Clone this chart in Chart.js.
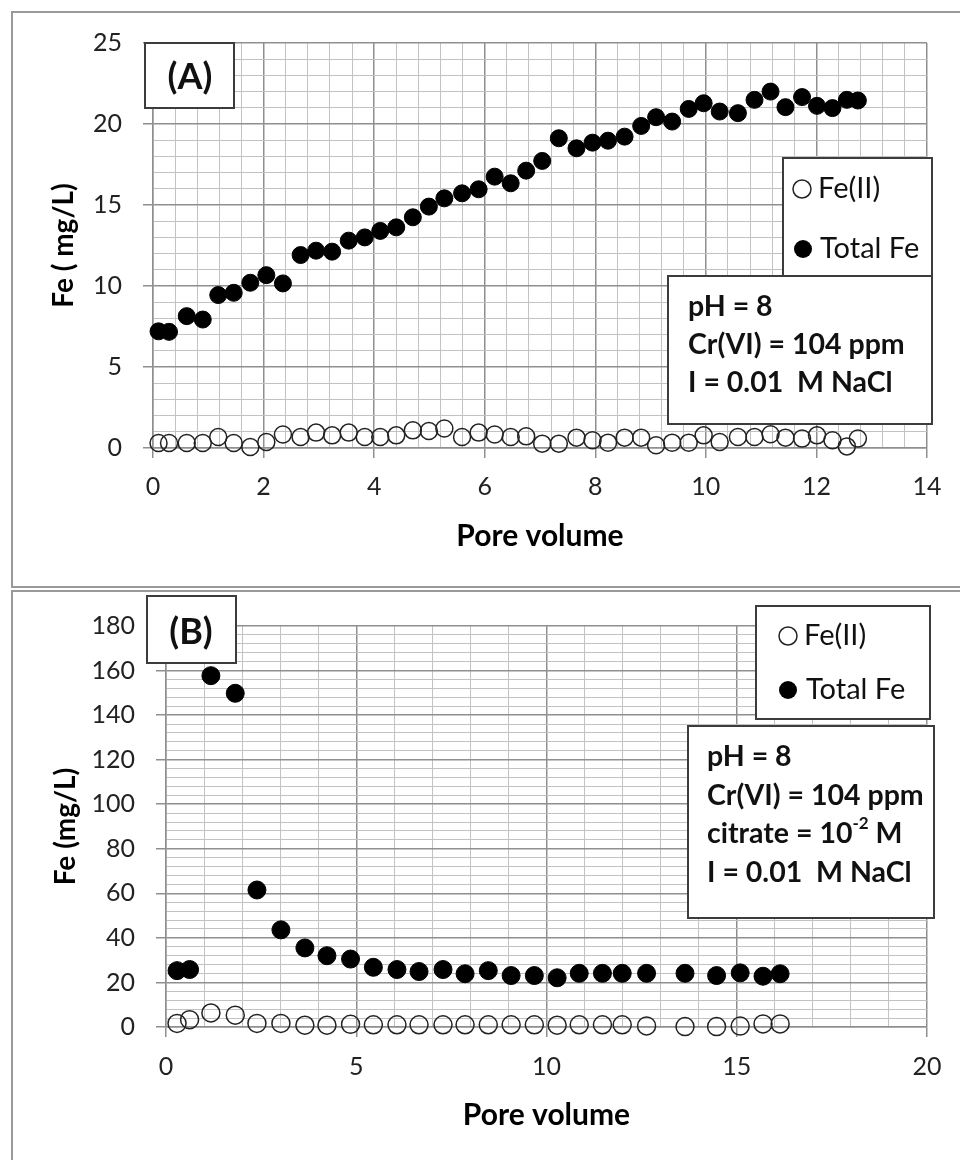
<!DOCTYPE html>
<html>
<head>
<meta charset="utf-8">
<script src="https://cdn.jsdelivr.net/npm/chart.js@4.4.1/dist/chart.umd.min.js"></script>
<style>
  html, body { margin: 0; padding: 0; background: #fff; }
  body { width: 960px; height: 1160px; position: relative; overflow: hidden; }
  .frame { position: absolute; left: 11px; width: 1000px; border: 2px solid #9a9a9a; box-sizing: border-box; }
  #frameA { top: 11px; height: 577px; }
  #frameB { top: 590px; height: 600px; }
  canvas { position: absolute; left: 0; }
  #chartA { top: 0; }
  #chartB { top: 590px; }
</style>
</head>
<body>
<div class="frame" id="frameA"></div>
<div class="frame" id="frameB"></div>
<canvas id="chartA" width="960" height="590"></canvas>
<canvas id="chartB" width="960" height="570"></canvas>
<script>
// Panel A: pH 8, no citrate
const poreVolA = [0.1, 0.29, 0.61, 0.9, 1.18, 1.46, 1.76, 2.05, 2.35, 2.67, 2.95, 3.24, 3.54, 3.83, 4.11,
  4.4, 4.7, 4.99, 5.27, 5.59, 5.89, 6.18, 6.47, 6.75, 7.04, 7.34, 7.66, 7.95, 8.23, 8.53, 8.83, 9.1,
  9.39, 9.69, 9.96, 10.25, 10.58, 10.88, 11.17, 11.44, 11.74, 12.01, 12.29, 12.55, 12.75];
const totalFeA = [7.2, 7.17, 8.14, 7.93, 9.44, 9.58, 10.2, 10.67, 10.16, 11.91, 12.18, 12.12, 12.8, 13.0, 13.4,
  13.62, 14.24, 14.9, 15.41, 15.72, 15.97, 16.75, 16.34, 17.12, 17.72, 19.12, 18.5, 18.85, 18.97, 19.22, 19.88, 20.42,
  20.15, 20.93, 21.28, 20.77, 20.67, 21.49, 22.0, 21.04, 21.66, 21.12, 20.98, 21.49, 21.45];
const fe2A = [0.31, 0.31, 0.31, 0.31, 0.68, 0.31, 0.06, 0.37, 0.83, 0.68, 0.95, 0.78, 0.95, 0.68, 0.68,
  0.78, 1.09, 1.05, 1.2, 0.68, 0.95, 0.83, 0.68, 0.72, 0.27, 0.27, 0.64, 0.48, 0.33, 0.64, 0.64, 0.17,
  0.33, 0.33, 0.78, 0.37, 0.68, 0.68, 0.85, 0.64, 0.58, 0.78, 0.48, 0.1, 0.58];
const xTicksA = [0, 2, 4, 6, 8, 10, 12, 14];
const yTicksA = [0, 5, 10, 15, 20, 25];

// Panel B: pH 8 with citrate 10^-2 M
const poreVolB = [0.29, 0.62, 1.18, 1.82, 2.39, 3.02, 3.65, 4.23, 4.85, 5.45, 6.07, 6.65, 7.28, 7.86,
  8.47, 9.07, 9.68, 10.28, 10.86, 11.47, 11.99, 12.63, 13.64, 14.47, 15.09, 15.69, 16.14];
const totalFeB = [25.3, 25.8, 157.7, 149.8, 61.5, 43.6, 35.5, 32.0, 30.5, 26.8, 25.8, 24.9, 25.8, 23.9,
  25.3, 23.1, 23.1, 22.1, 24.1, 24.1, 24.1, 24.1, 24.1, 23.1, 24.3, 22.8, 23.9];
const fe2B = [1.6, 3.3, 6.3, 5.3, 1.6, 1.6, 0.8, 0.8, 1.2, 1.0, 1.0, 1.0, 1.0, 1.0,
  1.0, 1.0, 1.0, 0.8, 1.0, 1.0, 1.0, 0.5, 0.2, 0.2, 0.4, 1.4, 1.4];
const xTicksB = [0, 5, 10, 15, 20];
const yTicksB = [0, 20, 40, 60, 80, 100, 120, 140, 160, 180];

const seriesNames = ['Fe(II)', 'Total Fe'];

Chart.defaults.font.family = 'Lato, "Open Sans", sans-serif';
Chart.defaults.color = '#222';

const majorGrid = '#8f8f8f';
const minorGrid = '#c2c2c2';

const isMajor = (v, majors) => majors.some(m => Math.abs(m - v) < 1e-6);

// draws the framed label / legend / condition boxes
const notesPlugin = {
  id: 'notes',
  afterDraw(chart, args, opts) {
    const ctx = chart.ctx;
    (opts.boxes || []).forEach(b => {
      ctx.save();
      ctx.fillStyle = '#fff';
      ctx.fillRect(b.x, b.y, b.w, b.h);
      ctx.lineWidth = 2;
      ctx.strokeStyle = '#3c3c3c';
      ctx.strokeRect(b.x, b.y, b.w, b.h);
      ctx.textBaseline = 'middle';
      (b.items || []).forEach(it => {
        if (it.marker) {
          ctx.beginPath();
          ctx.arc(it.mx, it.y, 9, 0, Math.PI * 2);
          if (it.marker === 'filled') {
            ctx.fillStyle = '#000';
            ctx.fill();
          } else {
            ctx.lineWidth = 1.5;
            ctx.strokeStyle = '#222';
            ctx.stroke();
          }
        }
        let x = it.x;
        const parts = it.parts || [{ t: it.text }];
        if (it.center) {
          ctx.font = it.font;
          x = it.x - ctx.measureText(it.text).width / 2;
        }
        parts.forEach(p => {
          ctx.font = p.sup ? it.supFont : it.font;
          ctx.fillStyle = '#111';
          ctx.fillText(p.t, x, p.sup ? it.y - 10 : it.y);
          x += ctx.measureText(p.t).width;
        });
      });
      ctx.restore();
    });
  }
};

function makeAxis(majors, step, min, max, opts) {
  return {
    type: 'linear',
    min: min,
    max: max,
    ticks: {
      stepSize: step,
      autoSkip: false,
      maxRotation: 0,
      minRotation: 0,
      padding: opts.tickPad,
      font: { size: 25 },
      color: '#222',
      callback: v => isMajor(v, majors) ? String(v) : ''
    },
    grid: {
      color: c => (c.tick && isMajor(c.tick.value, majors)) ? majorGrid : minorGrid,
      lineWidth: c => (c.tick && isMajor(c.tick.value, majors)) ? 1.5 : 1,
      tickColor: c => (c.tick && isMajor(c.tick.value, majors)) ? majorGrid : 'rgba(0,0,0,0)',
      tickLength: 10,
      drawTicks: true
    },
    border: { color: majorGrid, width: 1.5 },
    title: {
      display: true,
      text: opts.title,
      font: { size: opts.titleSize, weight: 'bold' },
      color: '#000',
      padding: opts.titlePad
    },
    afterFit: opts.fit
  };
}

function makeDatasets(xs, fe2, total, r) {
  return [
    {
      label: seriesNames[0],
      data: xs.map((x, i) => ({ x: x, y: fe2[i] })),
      pointRadius: r,
      pointBackgroundColor: 'rgba(0,0,0,0)',
      pointBorderColor: '#222',
      pointBorderWidth: 1.5,
      showLine: false,
      clip: false
    },
    {
      label: seriesNames[1],
      data: xs.map((x, i) => ({ x: x, y: total[i] })),
      pointRadius: r,
      pointBackgroundColor: '#000',
      pointBorderColor: '#000',
      pointBorderWidth: 1,
      showLine: false,
      clip: false
    }
  ];
}

const textFont = '29px Lato, "Open Sans", sans-serif';
const boldFont = 'bold 28.5px Lato, "Open Sans", sans-serif';

new Chart(document.getElementById('chartA'), {
  type: 'scatter',
  data: { datasets: makeDatasets(poreVolA, fe2A, totalFeA, 8.5) },
  options: {
    responsive: false,
    animation: false,
    layout: { padding: { top: 43, right: 33, left: 0, bottom: 0 } },
    scales: {
      x: makeAxis(xTicksA, 0.4, 0, 14, {
        title: 'Pore volume', titleSize: 30, tickPad: 14, titlePad: { top: 0, bottom: 36 },
        fit: s => { s.height = 142; }
      }),
      y: makeAxis(yTicksA, 1, 0, 25, {
        title: 'Fe ( mg/L)', titleSize: 28, tickPad: 21, titlePad: { top: 47, bottom: 0 },
        fit: s => { s.width = 153; }
      })
    },
    plugins: {
      legend: { display: false },
      tooltip: { enabled: false },
      notes: {
        boxes: [
          { x: 145, y: 43, w: 89, h: 65,
            items: [{ x: 190, y: 77, text: '(A)', center: true, font: 'bold 36px Lato, sans-serif' }] },
          { x: 783, y: 158, w: 149, h: 119,
            items: [
              { marker: 'open', mx: 802, x: 818, y: 189, text: seriesNames[0], font: textFont },
              { marker: 'filled', mx: 803, x: 820, y: 249, text: seriesNames[1], font: textFont }
            ] },
          { x: 668, y: 276, w: 264, h: 148,
            items: [
              { x: 688, y: 307, text: 'pH = 8', font: boldFont },
              { x: 688, y: 345, text: 'Cr(VI) = 104 ppm', font: boldFont },
              { x: 688, y: 383, text: 'I = 0.01  M NaCl', font: boldFont }
            ] }
        ]
      }
    }
  },
  plugins: [notesPlugin]
});

new Chart(document.getElementById('chartB'), {
  type: 'scatter',
  data: { datasets: makeDatasets(poreVolB, fe2B, totalFeB, 9) },
  options: {
    responsive: false,
    animation: false,
    layout: { padding: { top: 33, right: 33, left: 0, bottom: 0 } },
    scales: {
      x: makeAxis(xTicksB, 1, 0, 20, {
        title: 'Pore volume', titleSize: 30, tickPad: 15, titlePad: { top: 0, bottom: 27 },
        fit: s => { s.height = 133; }
      }),
      y: makeAxis(yTicksB, 4, 0, 180, {
        title: 'Fe (mg/L)', titleSize: 28, tickPad: 21, titlePad: { top: 49, bottom: 0 },
        fit: s => { s.width = 166; }
      })
    },
    plugins: {
      legend: { display: false },
      tooltip: { enabled: false },
      notes: {
        boxes: [
          { x: 147, y: 6, w: 89, h: 67,
            items: [{ x: 191, y: 42, text: '(B)', center: true, font: 'bold 36px Lato, sans-serif' }] },
          { x: 756, y: 16, w: 174, h: 113,
            items: [
              { marker: 'open', mx: 788, x: 804, y: 46, text: seriesNames[0], font: textFont },
              { marker: 'filled', mx: 788, x: 806, y: 100, text: seriesNames[1], font: textFont }
            ] },
          { x: 688, y: 136, w: 246, h: 192,
            items: [
              { x: 707, y: 167, text: 'pH = 8', font: boldFont },
              { x: 707, y: 206, text: 'Cr(VI) = 104 ppm', font: boldFont },
              { x: 707, y: 244, font: boldFont, supFont: 'bold 17px Lato, sans-serif',
                parts: [{ t: 'citrate = 10' }, { t: '-2', sup: true }, { t: ' M' }] },
              { x: 707, y: 283, text: 'I = 0.01  M NaCl', font: boldFont }
            ] }
        ]
      }
    }
  },
  plugins: [notesPlugin]
});
</script>
</body>
</html>
